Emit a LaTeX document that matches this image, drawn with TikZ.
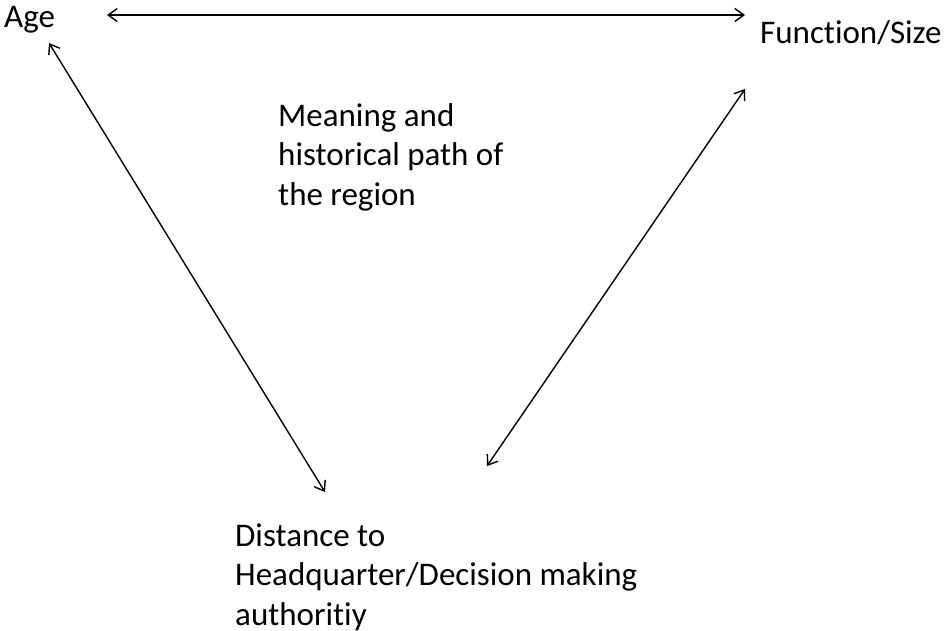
\documentclass[tikz,border=0pt]{standalone}
\usepackage{fontspec}
\setmainfont{Carlito}[Ligatures=NoCommon]
\usetikzlibrary{arrows}
\usetikzlibrary{arrows.meta}

\begin{document}
\begin{tikzpicture}[x=1pt, y=-1pt, font=\fontsize{33}{39.5}\selectfont,
  link/.style={{Straight Barb[length=9pt, width=13pt]}-{Straight Barb[length=9pt, width=13pt]}, line width = 1.4pt}]
\useasboundingbox (0,0) rectangle (944,630);

\draw (4,27) node[name = age, anchor = base west, inner sep = 0]{Age};
\draw (760,43) node[name = func, anchor = base west, inner sep = 0]{Function/Size};
\draw (278,205) node[name = mean, anchor = base west, inner sep = 0, align = left]{Meaning and\\historical path of\\the region};
\draw (235,625) node[name = dist, anchor = base west, inner sep = 0, align = left]{Distance to\\Headquarter/Decision making\\authoritiy};

% arrow ends
\coordinate (age-e) at (107,15);
\coordinate (age-s) at (49,43);
\coordinate (func-w) at (745,15);
\coordinate (func-s) at (745,89);
\coordinate (dist-nw) at (325,492);
\coordinate (dist-ne) at (487,466);

\draw[link] (age-e) -- (func-w);
\draw[link] (age-s) -- (dist-nw);
\draw[link] (func-s) -- (dist-ne);

\end{tikzpicture}
\end{document}
